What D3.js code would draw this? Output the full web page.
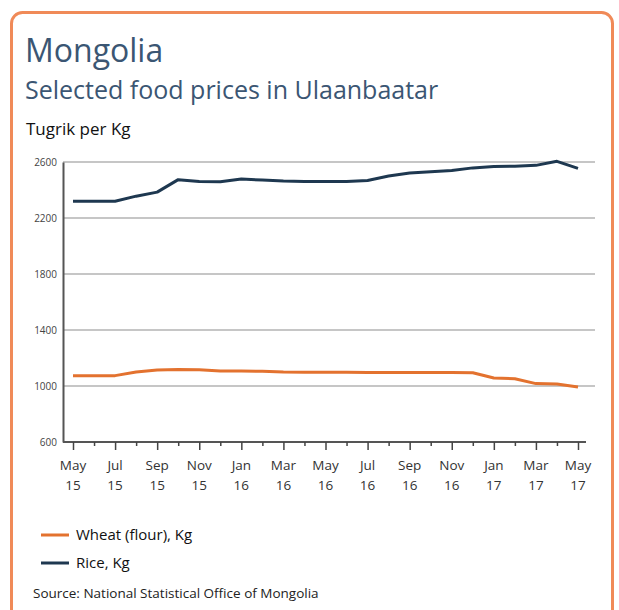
<!DOCTYPE html>
<html><head><meta charset="utf-8">
<script src="https://cdn.jsdelivr.net/npm/d3@7"></script>
<style>body{margin:0;background:#fff}svg{display:block}</style>
</head><body>
<script>
const months = ["May 15","Jun 15","Jul 15","Aug 15","Sep 15","Oct 15","Nov 15","Dec 15","Jan 16","Feb 16","Mar 16","Apr 16","May 16","Jun 16","Jul 16","Aug 16","Sep 16","Oct 16","Nov 16","Dec 16","Jan 17","Feb 17","Mar 17","Apr 17","May 17"];
const rice  = [2320,2320,2320,2356,2385,2474,2460,2459,2478,2471,2464,2461,2461,2461,2468,2500,2522,2530,2540,2558,2568,2570,2576,2605,2555];
const wheat = [1074,1074,1074,1100,1114,1117,1116,1108,1107,1105,1100,1099,1098,1098,1097,1096,1096,1096,1096,1095,1057,1052,1017,1015,993];
const yTicks = [600,1000,1400,1800,2200,2600];
const tickMonths = ["May","Jul","Sep","Nov","Jan","Mar","May","Jul","Sep","Nov","Jan","Mar","May"];
const tickYears = ["15","15","15","15","16","16","16","16","16","16","17","17","17"];
const seriesNames = ["Wheat (flour), Kg","Rice, Kg"];
const colors = {wheat:"#e3722f", rice:"#1e3850"};

const W=619,H=610;
const svg=d3.select("body").append("svg").attr("width",W).attr("height",H);
svg.append("rect").attr("x",11.5).attr("y",12.5).attr("width",601).attr("height",610)
  .attr("rx",11).attr("fill","#fff").attr("stroke","#f08a58").attr("stroke-width",3);

const font="'Open Sans', 'Noto Sans', sans-serif";
svg.append("text").attr("x",25).attr("y",62).text("Mongolia")
  .attr("font-family",font).attr("font-size",32).attr("fill","#3b5673");
svg.append("text").attr("x",25).attr("y",99).text("Selected food prices in Ulaanbaatar")
  .attr("font-family",font).attr("font-size",25).attr("fill","#3b5673");
svg.append("text").attr("x",26).attr("y",135).text("Tugrik per Kg")
  .attr("font-family",font).attr("font-size",17).attr("fill","#111");

const x=d3.scalePoint().domain(months).range([73,578]);
const y=d3.scaleLinear().domain([600,2600]).range([442,162]);

// grid
svg.append("g").selectAll("line").data(yTicks.filter(d=>d>600)).join("line")
  .attr("x1",63).attr("x2",595).attr("y1",d=>y(d)).attr("y2",d=>y(d))
  .attr("stroke","#c6c6c6").attr("stroke-width",2);

// y axis
const yAxis=d3.axisLeft(y).tickValues(yTicks).tickSize(0).tickPadding(6).tickFormat(d3.format("d"));
const gy=svg.append("g").attr("transform","translate(63,0)").call(yAxis);
gy.select(".domain").attr("stroke","#555").attr("stroke-width",2);
gy.selectAll("text").attr("font-family",font).attr("font-size",10).attr("fill","#444").attr("dy","0.32em");

// x axis
const xAxis=d3.axisBottom(x).tickSize(0).tickFormat("");
const gx=svg.append("g").attr("transform","translate(0,442)").call(xAxis);
gx.select(".domain").attr("d","M63,0H586").attr("stroke","#555").attr("stroke-width",2);
gx.selectAll(".tick").each(function(d,i){
  d3.select(this).append("line").attr("y1",0).attr("y2",i%2===0?8:4)
    .attr("stroke","#444").attr("stroke-width",1.5);
});
const labelled=months.filter((d,i)=>i%2===0);
svg.append("g").selectAll("text").data(labelled).join("text")
  .attr("x",d=>x(d)).attr("y",470).attr("text-anchor","middle")
  .attr("font-family",font).attr("font-size",13.5).attr("fill","#333")
  .each(function(d,i){
    const t=d3.select(this);
    t.append("tspan").attr("x",x(d)).text(tickMonths[i]);
    t.append("tspan").attr("x",x(d)).attr("dy",20).text(tickYears[i]);
  });

// lines
const line=d3.line().x((d,i)=>x(months[i])).y(d=>y(d));
svg.append("path").datum(wheat).attr("d",line).attr("fill","none")
  .attr("stroke",colors.wheat).attr("stroke-width",3).attr("stroke-linejoin","round");
svg.append("path").datum(rice).attr("d",line).attr("fill","none")
  .attr("stroke",colors.rice).attr("stroke-width",3).attr("stroke-linejoin","round");

// legend
const leg=[{n:seriesNames[0],c:colors.wheat,y:535},{n:seriesNames[1],c:colors.rice,y:563}];
leg.forEach(l=>{
  svg.append("line").attr("x1",41).attr("x2",69).attr("y1",l.y).attr("y2",l.y)
    .attr("stroke",l.c).attr("stroke-width",3);
  svg.append("text").attr("x",76).attr("y",l.y+5).text(l.n)
    .attr("font-family",font).attr("font-size",15).attr("fill","#111");
});
svg.append("text").attr("x",33).attr("y",598).text("Source: National Statistical Office of Mongolia")
  .attr("font-family",font).attr("font-size",13.5).attr("fill","#222");
</script>
</body></html>
